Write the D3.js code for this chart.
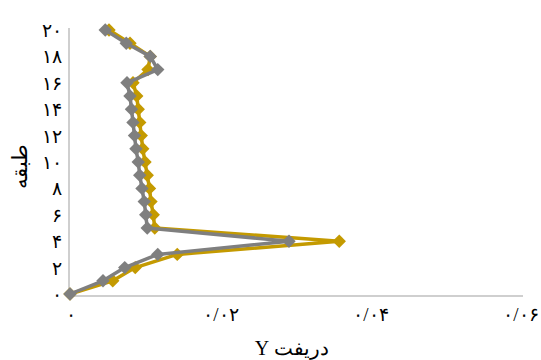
<!DOCTYPE html>
<html>
<head>
<meta charset="utf-8">
<script src="https://cdn.jsdelivr.net/npm/d3@7"></script>
<style>
  body { margin: 0; background: #fff; }
  text { font-family: "Liberation Serif", "DejaVu Serif", serif; fill: #000; }
</style>
</head>
<body>
<div id="chart"></div>
<script>
// floors (طبقه) and drift values for the two series
const floors = d3.range(0, 21);
const driftGold = [0, 0.0057, 0.0087, 0.0143, 0.0359, 0.0113, 0.0111, 0.0108, 0.0106, 0.0103, 0.0100,
                   0.0097, 0.0095, 0.0093, 0.0091, 0.0089, 0.0084, 0.0104, 0.0107, 0.0080, 0.0052];
const driftGray = [0, 0.0044, 0.0073, 0.0117, 0.0292, 0.0103, 0.0101, 0.0099, 0.0096, 0.0093, 0.0091,
                   0.0088, 0.0086, 0.0084, 0.0082, 0.0080, 0.0076, 0.0117, 0.0107, 0.0075, 0.0047];
const xTicks = [0, 0.02, 0.04, 0.06];
const yTicks = [0, 2, 4, 6, 8, 10, 12, 14, 16, 18, 20];

const width = 541, height = 360;
const faDigits = "۰۱۲۳۴۵۶۷۸۹";
function toFa(s) {
    return String(s).replace(/[0-9]/g, d => faDigits[+d]).replace(".", "/");
}

const svg = d3.select("#chart").append("svg")
    .attr("width", width)
    .attr("height", height);

const x = d3.scaleLinear().domain([0, 0.06]).range([70, 520]);
const y = d3.scaleLinear().domain([0, 20]).range([294, 30]);

// axis lines
svg.append("line")
    .attr("x1", x(0)).attr("x2", 523)
    .attr("y1", 296).attr("y2", 296)
    .attr("stroke", "#bfbfbf").attr("stroke-width", 1.5);
svg.append("line")
    .attr("x1", 69).attr("x2", 69)
    .attr("y1", 28).attr("y2", 296)
    .attr("stroke", "#bfbfbf").attr("stroke-width", 1.5);

// tick labels
svg.selectAll(".xt").data(xTicks).enter().append("text")
    .attr("class", "xt")
    .attr("x", d => x(d) + 1)
    .attr("y", 321)
    .attr("text-anchor", "middle")
    .attr("direction", "ltr")
    .style("font-size", "19px")
    .text(d => d === 0 ? toFa(0) : toFa(d.toFixed(2)));

svg.selectAll(".yt").data(yTicks).enter().append("text")
    .attr("class", "yt")
    .attr("x", 62)
    .attr("y", d => y(d) + 7)
    .attr("text-anchor", "end")
    .attr("direction", "ltr")
    .style("font-size", "19px")
    .text(d => toFa(d));

// axis titles
svg.append("text")
    .attr("x", 292).attr("y", 355)
    .attr("text-anchor", "middle")
    .attr("direction", "rtl")
    .style("font-size", "20px")
    .text("دریفت Y");

svg.append("text")
    .attr("transform", "translate(27,166) rotate(-90)")
    .attr("text-anchor", "middle")
    .style("font-size", "21px")
    .text("طبقه");

const line = d3.line()
    .x(d => x(d[0]))
    .y(d => y(d[1]));

const series = [
    {color: "#c49a00", values: driftGold},
    {color: "#7f7f7f", values: driftGray}
];

series.forEach(s => {
    const pts = s.values.map((v, i) => [v, floors[i]]);
    svg.append("path")
        .datum(pts)
        .attr("fill", "none")
        .attr("stroke", s.color)
        .attr("stroke-width", 3.5)
        .attr("stroke-linejoin", "round")
        .attr("d", line);
    svg.selectAll(null).data(pts).enter().append("path")
        .attr("d", d3.symbol().type(d3.symbolDiamond2).size(115))
        .attr("transform", d => "translate(" + x(d[0]) + "," + y(d[1]) + ")")
        .attr("fill", s.color);
});
</script>
</body>
</html>
